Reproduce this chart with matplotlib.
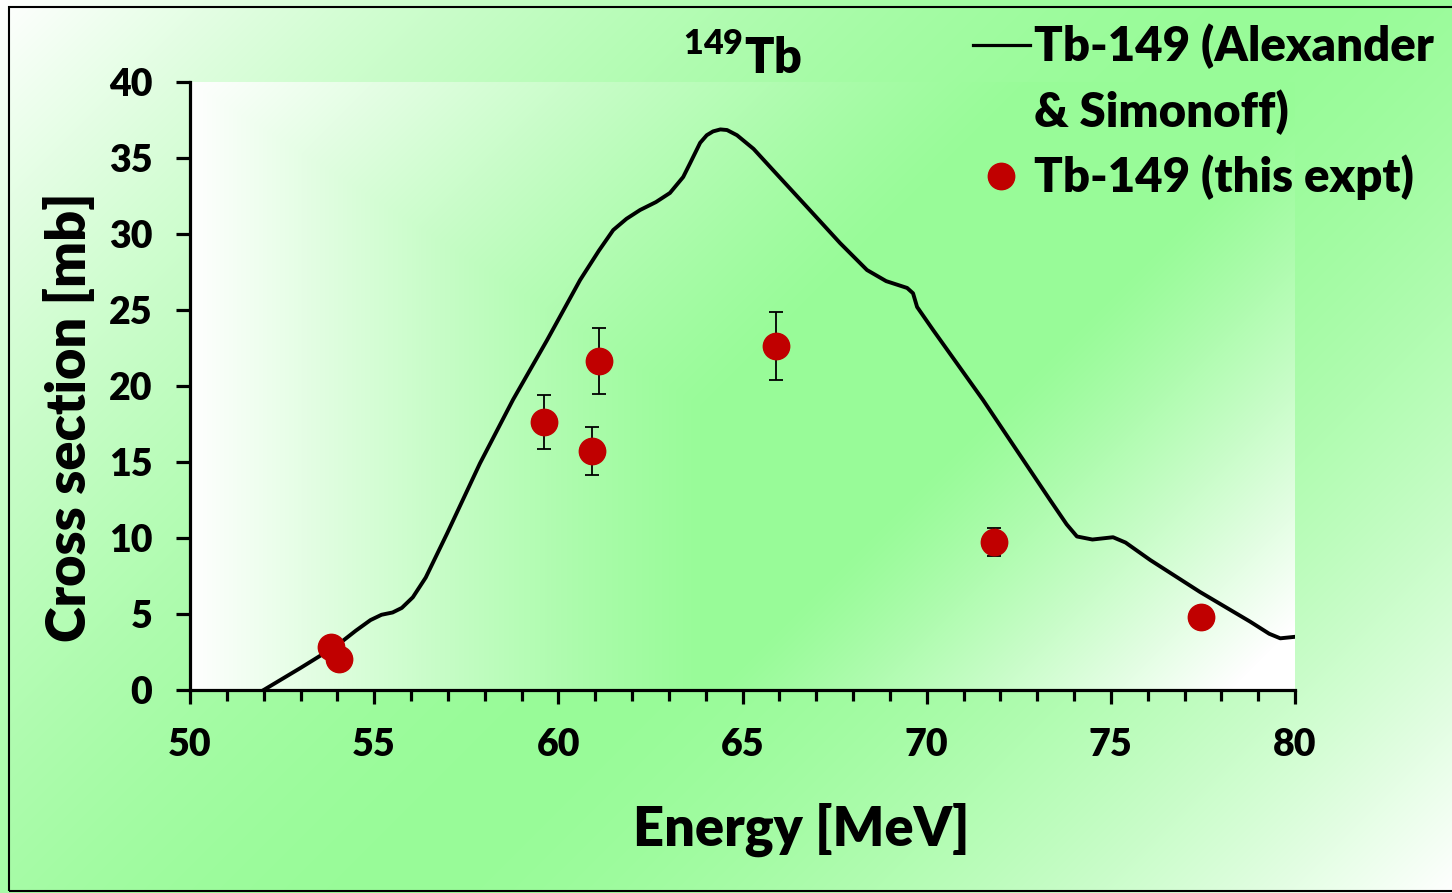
import numpy as np
import matplotlib
matplotlib.use('Agg')
import matplotlib.pyplot as plt
from matplotlib.lines import Line2D
from matplotlib.patches import Rectangle
from matplotlib.ticker import MultipleLocator

plt.rcParams['font.family'] = ['Lato', 'DejaVu Sans']
plt.rcParams['font.weight'] = 'heavy'
plt.rcParams['mathtext.fontset'] = 'custom'
plt.rcParams['mathtext.rm'] = 'Lato:heavy'

# Alexander & Simonoff curve
curve_e = [52.0, 53.0, 54.0, 54.5, 54.9, 55.2, 55.5, 55.75, 56.05, 56.4,
           56.98, 57.87, 58.77, 59.69, 60.59, 61.1, 61.49, 61.85, 62.22, 62.65,
           63.03, 63.39, 63.58, 63.85, 64.03, 64.2, 64.4, 64.58, 64.85, 65.3,
           65.83, 66.75, 67.65, 68.38, 68.9, 69.47, 69.63, 69.74, 70.17, 71.53,
           73.35, 73.8, 74.08, 74.5, 75.06, 75.4, 76.07, 77.42, 78.78, 79.3,
           79.6, 80.0]
curve_xs = [0.0, 1.45, 2.95, 3.9, 4.6, 4.95, 5.1, 5.4, 6.1, 7.4,
            10.3, 14.9, 19.1, 23.0, 26.97, 28.9, 30.26, 31.0, 31.58, 32.1,
            32.7, 33.75, 34.67, 36.0, 36.5, 36.75, 36.88, 36.84, 36.5, 35.6,
            34.2, 31.78, 29.4, 27.63, 26.9, 26.45, 26.1, 25.2, 23.7, 19.08,
            12.5, 10.9, 10.1, 9.9, 10.05, 9.7, 8.55, 6.45, 4.5, 3.7,
            3.4, 3.5]

# this experiment
expt_e = [53.83, 54.05, 59.61, 60.92, 61.1, 65.91, 71.83, 77.45]
expt_xs = [2.83, 2.04, 17.63, 15.72, 21.64, 22.63, 9.74, 4.8]
expt_err = [0.0, 0.0, 1.75, 1.6, 2.15, 2.25, 0.95, 0.0]

W, H = 1452, 893
green = np.array([152, 251, 152]) / 255.0
white = np.array([1.0, 1.0, 1.0])


def blend(w, power=1.5):
    w = np.clip(w, 0, 1) ** power
    return green + (white - green) * w[..., None]


def outer_gradient():
    xx, yy = np.meshgrid(np.arange(W), np.arange(H))
    s = xx + yy
    w = np.where(s < 1300, 1 - s / 1300, (s - 1300) / (2345 - 1300))
    return blend(w, 1.7)


def inner_gradient(x0, x1, y0, y1):
    xx, yy = np.meshgrid(np.arange(x0, x1), np.arange(y0, y1))
    w_left = 1 - (xx - x0) / 520
    w_corner = 1 - (xx + yy - 272) / 850
    w_right = (xx + yy - 1400) / 520
    return blend(np.maximum(np.maximum(w_left, w_corner), w_right), 1.2)


fig = plt.figure(figsize=(W / 100, H / 100), dpi=100)
bg = fig.add_axes([0, 0, 1, 1], zorder=-10)
bg.imshow(outer_gradient(), aspect='auto', extent=(0, 1, 0, 1))
bg.set_axis_off()
fig.add_artist(Rectangle((9 / W, 2 / H), 1.0, 1 - 9 / H, transform=fig.transFigure,
                         fill=False, ec='black', lw=1.5))

ax = fig.add_axes([190 / W, 1 - 690 / H, (1295 - 190) / W, (690 - 82) / H])
ax.imshow(inner_gradient(190, 1295, 82, 690), aspect='auto',
          extent=(50, 80, 0, 40), zorder=0)
ax.patch.set_visible(False)

ax.plot(curve_e, curve_xs, color='black', lw=2.8, zorder=3, solid_joinstyle='round')
ax.errorbar(expt_e, expt_xs, yerr=expt_err, fmt='none', ecolor='black',
            elinewidth=1.3, capsize=5, capthick=1.3, zorder=4)
ax.plot(expt_e, expt_xs, 'o', color='#C00000', ms=19, zorder=5)

ax.set_xlim(50, 80)
ax.set_ylim(0, 40)
ax.xaxis.set_major_locator(MultipleLocator(5))
ax.xaxis.set_minor_locator(MultipleLocator(1))
ax.yaxis.set_major_locator(MultipleLocator(5))
for side in ['top', 'right']:
    ax.spines[side].set_visible(False)
for side in ['left', 'bottom']:
    ax.spines[side].set_linewidth(2.3)
ax.tick_params(which='major', direction='out', length=10, width=2.3,
               labelsize=27, pad=17)
ax.tick_params(which='minor', direction='out', length=8, width=2.3)
for lab in ax.get_xticklabels() + ax.get_yticklabels():
    lab.set_fontweight('heavy')

ax.set_xlabel('Energy [MeV]', fontsize=39, fontweight='heavy', labelpad=30)
ax.xaxis.label.set_x((801 - 190) / 1105)
ax.set_ylabel('Cross section [mb]', fontsize=39, fontweight='heavy', labelpad=10)
ax.yaxis.label.set_y((690 - 417) / 608)
ax.set_title('$^{149}$Tb', fontsize=35, fontweight='heavy', pad=-2)

handles = [Line2D([], [], color='black', lw=2.3),
           Line2D([], [], color='none'),
           Line2D([], [], ls='none', marker='o', color='#C00000', ms=19)]
labels = ['Tb-149 (Alexander', '& Simonoff)', 'Tb-149 (this expt)']
fig.legend(handles, labels, loc='upper left', bbox_to_anchor=(973 / W, 1 - 24 / H),
           frameon=False, handlelength=1.2, handletextpad=0.1,
           labelspacing=0.42, borderpad=0, borderaxespad=0,
           prop={'weight': 'heavy', 'size': 34})

fig.savefig('out.png', dpi=100)
